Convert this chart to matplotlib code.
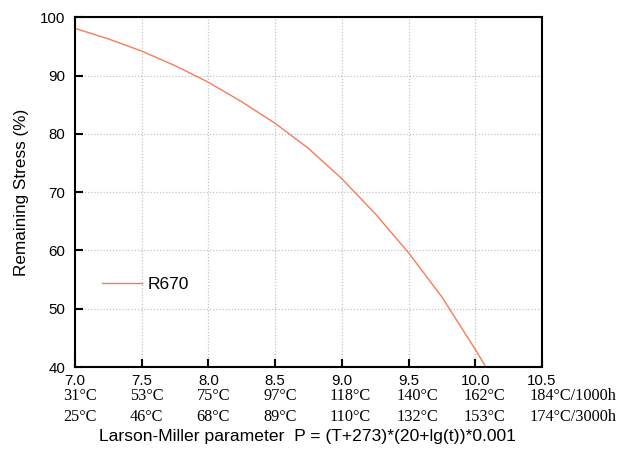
import numpy as np
import matplotlib
matplotlib.use("Agg")
import matplotlib.pyplot as plt
import matplotlib.transforms as mtransforms

# Larson-Miller parameter vs remaining stress
lmp = [7.0, 7.25, 7.5, 7.75, 8.0, 8.25, 8.5, 8.75, 9.0, 9.25, 9.5, 9.75, 10.0, 10.08]
stress = [98.1, 96.3, 94.2, 91.7, 88.85, 85.5, 81.8, 77.5, 72.3, 66.3, 59.6, 52.0, 43.0, 40.0]

xticks = [7.0, 7.5, 8.0, 8.5, 9.0, 9.5, 10.0, 10.5]
xtick_labels = ["7.0", "7.5", "8.0", "8.5", "9.0", "9.5", "10.0", "10.5"]
temp_1000h = ["31°C", "53°C", "75°C", "97°C", "118°C", "140°C", "162°C", "184°C/1000h"]
temp_3000h = ["25°C", "46°C", "68°C", "89°C", "110°C", "132°C", "153°C", "174°C/3000h"]

sans = "Liberation Sans"
serif = "Liberation Serif"


def main():
  fig = plt.figure(figsize=(6.21, 4.54), dpi=100)
  ax = fig.add_axes([0.1208, 0.1916, 0.7520, 0.7703])

  ax.plot(lmp, stress, color="#f47c5c", linewidth=1.0, label="R670")

  ax.set_xlim(7.0, 10.5)
  ax.set_ylim(40, 100)
  ax.set_xticks(xticks)
  ax.set_xticklabels(xtick_labels, fontfamily=sans, fontsize=10.8)
  ax.set_yticks([40, 50, 60, 70, 80, 90, 100])
  ax.tick_params(axis="both", direction="in", length=6, width=1.5, colors="black")
  ax.tick_params(axis="x", pad=5)
  ax.tick_params(axis="y", pad=7)
  for lab in ax.get_yticklabels():
    lab.set_fontfamily(sans)
    lab.set_fontsize(10.8)
  for sp in ax.spines.values():
    sp.set_linewidth(1.5)

  ax.grid(True, which="major", axis="both", color="#c4c4c4", linestyle=(0, (1, 1.5)), linewidth=0.9)
  ax.set_axisbelow(True)

  # temperature rows below the tick labels
  offset = mtransforms.ScaledTranslation(-0.12, 0, fig.dpi_scale_trans)
  trans = mtransforms.blended_transform_factory(ax.transData, ax.transAxes) + offset
  for x, t1, t3 in zip(xticks, temp_1000h, temp_3000h):
    ax.text(x, -0.082, t1, transform=trans, ha="left", va="center",
            fontfamily=serif, fontsize=11.7, clip_on=False)
    ax.text(x, -0.143, t3, transform=trans, ha="left", va="center",
            fontfamily=serif, fontsize=11.7, clip_on=False)

  fig.text(0.5 * (97 + 518) / 621, 1 - 436 / 454,
           "Larson-Miller parameter  P = (T+273)*(20+lg(t))*0.001",
           ha="center", va="center", fontfamily=sans, fontsize=12.6)
  ax.set_ylabel("Remaining Stress (%)", fontfamily=sans, fontsize=12.3, labelpad=8)

  ax.legend(loc="center left", bbox_to_anchor=(0.058, 0.235), frameon=False,
            borderpad=0, borderaxespad=0, handlelength=2.3, handletextpad=0.3,
            prop={"family": sans, "size": 12.5})

  fig.savefig("out.png", dpi=100)


if __name__ == "__main__":
  main()
